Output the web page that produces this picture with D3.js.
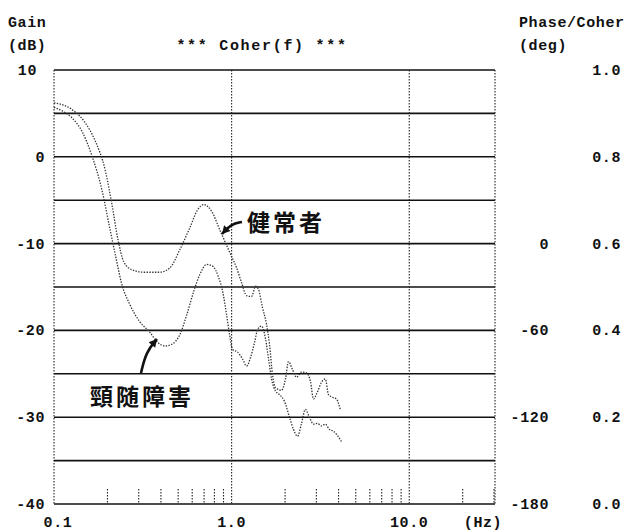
<!DOCTYPE html>
<html>
<head>
<meta charset="UTF-8">
<style>
  body { margin: 0; background: #fff; }
  text { font-family: "Liberation Mono", "DejaVu Sans Mono", monospace; font-weight: bold; font-size: 15px; fill: #111; letter-spacing: 0.6px; }
  .jp { font-family: "Noto Sans CJK JP", sans-serif; font-size: 23px; letter-spacing: 3px; font-weight: bold; }
</style>
</head>
<body>
<svg></svg>
<script src="https://d3js.org/d3.v7.min.js"></script>
<script>
// 健常者 (normal)
let normalFreq = [0.1, 0.115, 0.131, 0.149, 0.17, 0.194, 0.212, 0.229, 0.247, 0.274, 0.324, 0.394, 0.449, 0.511, 0.581, 0.644, 0.697, 0.773, 0.857, 1.0, 1.067, 1.138, 1.214, 1.295, 1.364, 1.418, 1.493, 1.573, 1.634, 1.70, 1.767, 1.909, 2.01, 2.09, 2.20, 2.32, 2.47, 2.64, 2.78, 2.89, 3.04, 3.20, 3.37, 3.51, 3.69, 3.89, 4.10];
let normalGain = [6.2, 5.9, 5.2, 4.0, 1.9, -1.5, -5.5, -9.5, -12.1, -13.0, -13.3, -13.3, -12.8, -10.7, -8.2, -6.1, -5.5, -6.3, -8.4, -11.5, -12.8, -14.5, -16.0, -16.1, -14.9, -15.3, -17.4, -19.3, -21.6, -25.1, -26.6, -26.9, -25.6, -23.6, -24.5, -25.4, -24.8, -24.9, -25.9, -27.9, -27.1, -26.0, -25.6, -27.4, -27.7, -27.9, -29.2];
// 頸随障害 (cervical myelopathy)
let patientFreq = [0.1, 0.111, 0.126, 0.144, 0.163, 0.186, 0.206, 0.223, 0.241, 0.267, 0.304, 0.346, 0.384, 0.421, 0.46, 0.511, 0.559, 0.612, 0.661, 0.724, 0.782, 0.845, 0.89, 0.937, 0.974, 1.013, 1.081, 1.153, 1.214, 1.279, 1.346, 1.40, 1.474, 1.553, 1.614, 1.679, 1.767, 1.861, 1.986, 2.118, 2.23, 2.35, 2.47, 2.60, 2.74, 2.89, 3.04, 3.20, 3.37, 3.55, 3.74, 3.94, 4.15];
let patientGain = [5.7, 5.3, 4.5, 2.9, 0.2, -3.8, -8.2, -11.6, -14.7, -17.0, -19.0, -20.2, -21.4, -21.8, -21.6, -20.5, -18.2, -15.5, -13.6, -12.4, -12.6, -13.9, -15.5, -18.2, -20.5, -22.2, -22.5, -23.3, -24.1, -23.1, -21.4, -19.9, -19.5, -21.0, -23.3, -25.6, -27.0, -27.4, -28.2, -30.0, -31.4, -32.2, -30.8, -29.1, -30.0, -30.8, -30.7, -31.0, -30.8, -31.4, -31.6, -32.1, -32.8];

let gainTicks = [10, 0, -10, -20, -30, -40];
let phaseTicks = ["", "", "0", "-60", "-120", "-180"];
let coherTicks = ["1.0", "0.8", "0.6", "0.4", "0.2", "0.0"];
let freqLabels = [[0.1, "0.1"], [1, "1.0"], [10, "10.0"]];
let minorFreqs = [0.2, 0.3, 0.4, 0.5, 0.6, 0.7, 0.8, 0.9, 2, 3, 4, 5, 6, 7, 8, 9, 20, 30];

let width = 626, height = 532;
let svg = d3.select("svg").attr("width", width).attr("height", height);

let x = d3.scaleLog().domain([0.1, 30.4]).range([54, 495]);
let y = d3.scaleLinear().domain([-40, 10]).range([504, 70]);

// horizontal grid lines every 5 dB
svg.append("g").selectAll("line")
    .data(d3.range(-40, 11, 5))
    .enter().append("line")
    .attr("x1", x(0.1)).attr("x2", x(30.4))
    .attr("y1", d => y(d)).attr("y2", d => y(d))
    .attr("stroke", "#111").attr("stroke-width", 1.6);

// vertical dotted lines
svg.append("g").selectAll("line")
    .data([0.1, 1, 10, 30.4])
    .enter().append("line")
    .attr("x1", d => x(d)).attr("x2", d => x(d))
    .attr("y1", y(10)).attr("y2", y(-40))
    .attr("stroke", "#222").attr("stroke-width", 1.1)
    .attr("stroke-dasharray", "1.5,1.5");

// minor ticks at bottom
svg.append("g").selectAll("line")
    .data(minorFreqs)
    .enter().append("line")
    .attr("x1", d => x(d)).attr("x2", d => x(d))
    .attr("y1", y(-40) - 15).attr("y2", y(-40))
    .attr("stroke", "#222").attr("stroke-width", 1.1)
    .attr("stroke-dasharray", "1.5,1.5");

let line = d3.line().x(d => x(d[0])).y(d => y(d[1])).curve(d3.curveMonotoneX);

[[normalFreq, normalGain], [patientFreq, patientGain]].forEach(s => {
    svg.append("path")
        .datum(d3.zip(s[0], s[1]))
        .attr("d", line)
        .attr("fill", "none")
        .attr("stroke", "#333")
        .attr("stroke-width", 1.3)
        .attr("stroke-dasharray", "1.4,1.4");
});

// left axis labels
svg.append("g").selectAll("text")
    .data(gainTicks)
    .enter().append("text")
    .attr("x", d => d == 10 ? 37 : 45)
    .attr("y", d => y(d) + 5)
    .attr("text-anchor", "end")
    .text(d => d);

// right axis labels
svg.append("g").selectAll("text")
    .data(phaseTicks)
    .enter().append("text")
    .attr("x", 549).attr("y", (d, i) => y(gainTicks[i]) + 5)
    .attr("text-anchor", "end")
    .text(d => d);
svg.append("g").selectAll("text")
    .data(coherTicks)
    .enter().append("text")
    .attr("x", 621).attr("y", (d, i) => y(gainTicks[i]) + 5)
    .attr("text-anchor", "end")
    .text(d => d);

// x labels
svg.append("g").selectAll("text")
    .data(freqLabels)
    .enter().append("text")
    .attr("x", d => x(d[0]) + (d[0] == 0.1 ? 4 : 0)).attr("y", 527)
    .attr("text-anchor", "middle")
    .text(d => d[1]);
svg.append("text").attr("x", 483).attr("y", 527).attr("text-anchor", "middle").text("(Hz)");

// headers
svg.append("text").attr("x", 8).attr("y", 27).text("Gain");
svg.append("text").attr("x", 8).attr("y", 50).text("(dB)");
svg.append("text").attr("x", 262).attr("y", 50).attr("text-anchor", "middle")
    .style("letter-spacing", "1.7px").text("*** Coher(f) ***");
svg.append("text").attr("x", 519).attr("y", 27).text("Phase/Coher");
svg.append("text").attr("x", 519).attr("y", 50).text("(deg)");

// annotations
svg.append("text").attr("class", "jp").attr("x", 247).attr("y", 231).text("健常者");
svg.append("text").attr("class", "jp").attr("x", 90).attr("y", 405).text("頸随障害");

let arrows = [
    [[242, 222], [231, 224], [222, 234]],
    [[141, 373], [146, 352], [157, 339]]
];
arrows.forEach(a => {
    svg.append("path")
        .attr("d", d3.line().curve(d3.curveBasis)(a))
        .attr("fill", "none").attr("stroke", "#111").attr("stroke-width", 2.6);
    let p = a[2], q = a[1];
    let ang = Math.atan2(p[1] - q[1], p[0] - q[0]);
    let L = 9, w = 0.5;
    svg.append("path")
        .attr("d", "M" + p[0] + "," + p[1]
            + "L" + (p[0] - L * Math.cos(ang - w)) + "," + (p[1] - L * Math.sin(ang - w))
            + "L" + (p[0] - L * Math.cos(ang + w)) + "," + (p[1] - L * Math.sin(ang + w)) + "Z")
        .attr("fill", "#111");
});
</script>
</body>
</html>
